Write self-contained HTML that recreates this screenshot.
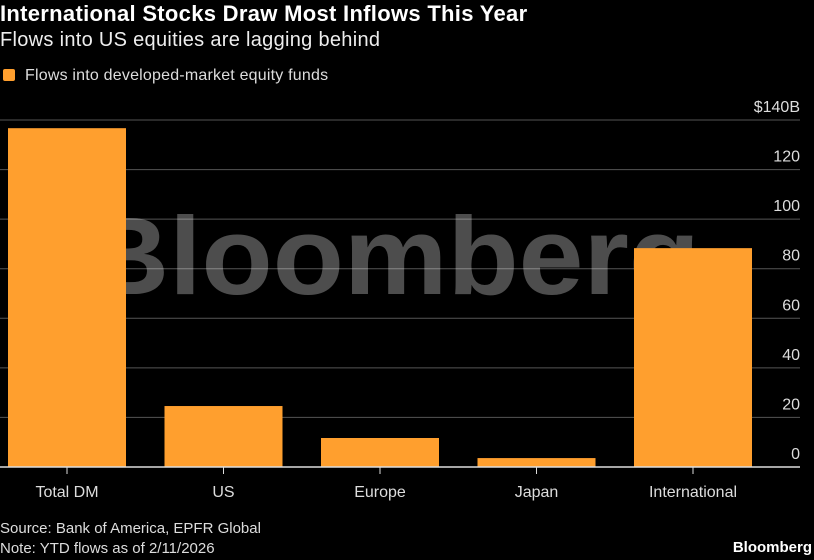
<!DOCTYPE html>
<html><head><meta charset="utf-8"><style>
body{margin:0;background:#000;width:814px;height:560px;overflow:hidden;font-family:"Liberation Sans",sans-serif;color:#fff}
.t{position:absolute;white-space:nowrap}
</style></head><body>
<div class="t" style="left:0;top:1px;font-size:22px;font-weight:bold;letter-spacing:0.3px">International Stocks Draw Most Inflows This Year</div>
<div class="t" style="left:0;top:29px;font-size:20px;color:#eee;letter-spacing:0.3px">Flows into US equities are lagging behind</div>
<div class="t" style="left:3px;top:67px;font-size:16px;color:#ddd;letter-spacing:0.2px"><span style="display:inline-block;width:12px;height:12px;background:#ff9f2e;border-radius:2px;margin-right:10px;vertical-align:-1px"></span>Flows into developed-market equity funds</div>
<svg id="chart" width="814" height="560" style="position:absolute;left:0;top:0"></svg>
<div class="t" style="left:0;top:520px;font-size:15px;color:#ddd">Source: Bank of America, EPFR Global</div>
<div class="t" style="left:0;top:540px;font-size:15px;color:#ddd">Note: YTD flows as of 2/11/2026</div>
<div class="t" style="right:2px;top:539px;font-size:15px;font-weight:bold">Bloomberg</div>
<script>
const categories=["Total DM","US","Europe","Japan","International"];
const values=[136.7,24.6,11.7,3.6,88.3];
const ticks=[0,20,40,60,80,100,120,140];
const tickLabels=["0","20","40","60","80","100","120","$140B"];
const NS="http://www.w3.org/2000/svg";
const svg=document.getElementById('chart');
const y0=467,yTop=120,vmax=140,left=8,bandW=156.5,barW=118;
const y=v=>y0-(y0-yTop)*v/vmax;
const xc=i=>left+bandW*i+barW/2;
function mk(t,a){const e=document.createElementNS(NS,t);for(const k in a)e.setAttribute(k,a[k]);svg.appendChild(e);return e;}
ticks.forEach((t,i)=>{
  if(t>0){const l=mk('line',{x1:0,x2:800,y1:y(t),y2:y(t),stroke:'#555','stroke-width':1});
  
  }
  const tx=mk('text',{x:800,y:y(t)-8,'text-anchor':'end','font-size':16,fill:'#ddd','font-family':'Liberation Sans'});
  tx.textContent=tickLabels[i];
  
  
});
const wm=mk('text',{x:85,y:294,'font-size':110,'font-weight':'bold',fill:'#fff','fill-opacity':0.3,'font-family':'Liberation Sans',textLength:615,lengthAdjust:'spacingAndGlyphs'});
wm.textContent='Bloomberg';


values.forEach((v,i)=>{
  const r=mk('rect',{x:xc(i)-barW/2,y:y(v),width:barW,height:y0-y(v),fill:'#ff9f2e'});
  
  
  const tk=mk('line',{x1:xc(i),x2:xc(i),y1:y0,y2:y0+7,stroke:'#ddd','stroke-width':1});
  
  
  const lb=mk('text',{x:xc(i),y:497,'text-anchor':'middle','font-size':16,fill:'#ddd','font-family':'Liberation Sans'});
  lb.textContent=categories[i];
  
  
});
const ax=mk('line',{x1:0,x2:800,y1:y0,y2:y0,stroke:'#ddd','stroke-width':1.5});


</script>
</body></html>
